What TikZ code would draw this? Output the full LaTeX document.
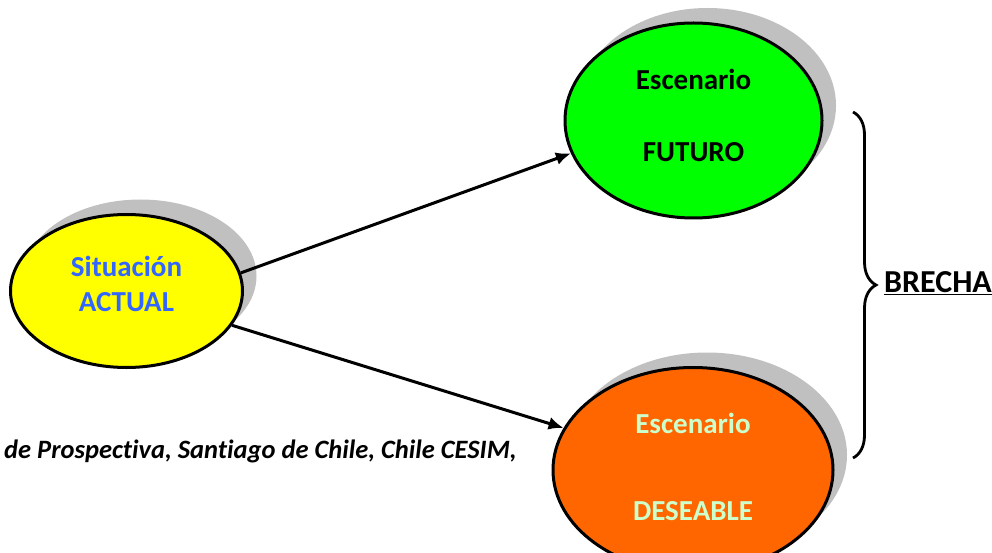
\documentclass[tikz,border=0pt]{standalone}
\usepackage{fontspec}
\setmainfont{Carlito}[Ligatures=NoCommon]
\usetikzlibrary{shapes.geometric,shadows,arrows.meta,decorations.pathreplacing}
\definecolor{actfill}{HTML}{FFFF00}
\definecolor{futfill}{HTML}{00FF00}
\definecolor{desfill}{HTML}{FF6600}
\definecolor{acttext}{HTML}{3366FF}
\definecolor{destext}{HTML}{CCFFCC}
\definecolor{shade}{HTML}{C0C0C0}
\begin{document}
\begin{tikzpicture}[x=1pt, y=-1pt,
  esc/.style={ellipse, draw=black, line width=3pt, inner sep=0pt, align=center,
    font=\fontsize{29}{35}\selectfont\bfseries,
    drop shadow={shadow xshift=14pt, shadow yshift=15pt, fill=shade, opacity=1}},
  link/.style={line width=3pt, -{Latex[length=15pt, width=13pt]}}]
\useasboundingbox (0,0) rectangle (992,553);
\node[esc, fill=actfill, text=acttext, minimum width=232pt, minimum height=153pt]
  (act) at (126.5,291) {Situación\\ACTUAL\rule[-14pt]{0pt}{0pt}};
\node[esc, fill=futfill, minimum width=257pt, minimum height=195pt]
  (fut) at (693.5,120.5) {Escenario\\[37pt]FUTURO\rule[-10pt]{0pt}{0pt}};
\node[esc, fill=desfill, text=destext, minimum width=280pt, minimum height=205pt]
  (des) at (693,470) {Escenario\\[52pt]DESEABLE\rule[-6pt]{0pt}{0pt}};
\draw[link] (act.9) -- (fut.195);
\draw[link] (act.342) -- (des.162);
% la brecha entre ambos escenarios
\coordinate (b1) at (853,112);
\coordinate (b2) at (853,458);
\draw[line width=2.8pt, decorate, decoration={brace, amplitude=23pt}] (b1) -- (b2);
\node[anchor=west, font=\fontsize{32}{38}\selectfont\bfseries, inner sep=0pt]
  (gap) at (884,283) {\underline{BRECHA}};
\node[anchor=west, font=\fontsize{26.5}{31}\selectfont\bfseries\itshape, inner sep=0pt]
  (src) at (4,451) {de Prospectiva, Santiago de Chile, Chile CESIM,};
\end{tikzpicture}
\end{document}
